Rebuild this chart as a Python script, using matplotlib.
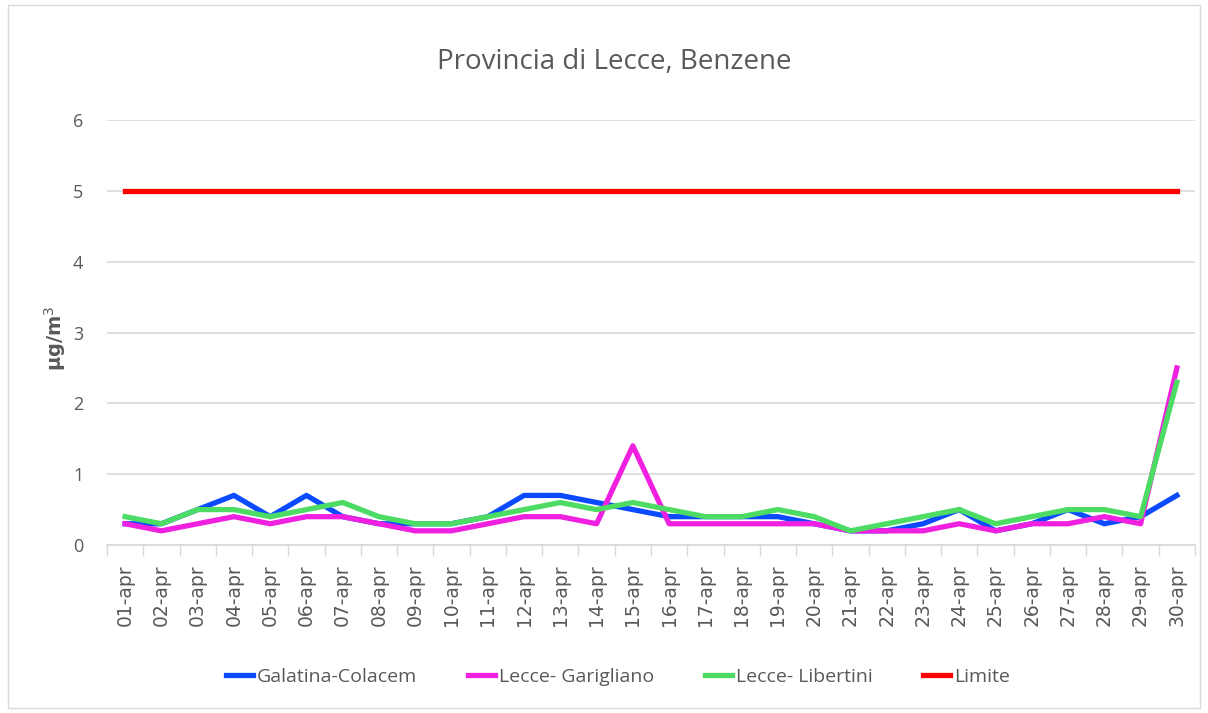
import matplotlib
matplotlib.use("Agg")
import matplotlib.pyplot as plt
from matplotlib.patches import Rectangle
import numpy as np

plt.rcParams['font.family'] = ['Open Sans', 'DejaVu Sans']

days = [f"{d:02d}-apr" for d in range(1, 31)]

galatina = [0.3, 0.3, 0.5, 0.7, 0.4, 0.7, 0.4, 0.3, 0.3, 0.3,
            0.4, 0.7, 0.7, 0.6, 0.5, 0.4, 0.4, 0.4, 0.4, 0.3,
            0.2, 0.2, 0.3, 0.5, 0.2, 0.3, 0.5, 0.3, 0.4, 0.7]
garigliano = [0.3, 0.2, 0.3, 0.4, 0.3, 0.4, 0.4, 0.3, 0.2, 0.2,
              0.3, 0.4, 0.4, 0.3, 1.4, 0.3, 0.3, 0.3, 0.3, 0.3,
              0.2, 0.2, 0.2, 0.3, 0.2, 0.3, 0.3, 0.4, 0.3, 2.5]
libertini = [0.4, 0.3, 0.5, 0.5, 0.4, 0.5, 0.6, 0.4, 0.3, 0.3,
             0.4, 0.5, 0.6, 0.5, 0.6, 0.5, 0.4, 0.4, 0.5, 0.4,
             0.2, 0.3, 0.4, 0.5, 0.3, 0.4, 0.5, 0.5, 0.4, 2.3]
limite = [5] * 30

grey = "#595959"
x = np.arange(len(days))

fig = plt.figure(figsize=(12.08, 7.13), dpi=100)
ax = fig.add_axes([107 / 1208, 1 - 545 / 713, (1195 - 107) / 1208, (545 - 120) / 713])

ax.plot(x, galatina, color="#0A4BFF", lw=3.8, label="Galatina-Colacem")
ax.plot(x, garigliano, color="#F020E0", lw=3.8, label="Lecce- Garigliano")
ax.plot(x, libertini, color="#4CDC64", lw=3.8, label="Lecce- Libertini")
ax.plot(x, limite, color="#FF0000", lw=3.8, label="Limite")

ax.set_xlim(-0.5, len(days) - 0.5)
ax.set_ylim(0, 6)
ax.set_yticks(range(7))
ax.set_xticks(x)
ax.set_xticklabels(days, rotation=90, fontsize=13.5, color=grey, family="DejaVu Sans")
ax.tick_params(axis="x", length=0, pad=14)
ax.set_xticks(np.arange(-0.5, len(days)), minor=True)
ax.tick_params(axis="x", which="minor", length=8, color="#d9d9d9", width=1)
ax.tick_params(axis="y", length=0, labelsize=13, labelcolor=grey, pad=17)

ax.grid(axis="y", color="#d9d9d9", lw=1.2)
ax.set_axisbelow(True)
for s in ["top", "right", "left"]:
    ax.spines[s].set_visible(False)
ax.spines["bottom"].set_color("#d9d9d9")
ax.spines["bottom"].set_linewidth(1.2)

fig.text(55 / 1208, 1 - 338 / 713, "µg/m$^3$", rotation=90, ha="center", va="center",
         fontsize=14, color=grey, fontweight="bold", family="DejaVu Sans")
fig.text(614 / 1208, 1 - 62 / 713, "Provincia di Lecce, Benzene", ha="center", va="center",
         fontsize=20, color=grey)

fig.legend(loc="center", bbox_to_anchor=(618 / 1208, 1 - 677 / 713), ncol=4, frameon=False,
           fontsize=14, handlelength=1.4, columnspacing=2.6, handletextpad=0.2,
           labelcolor=grey)

fig.patches.append(Rectangle((8 / 1208, 5 / 713), 1192 / 1208, 703 / 713, transform=fig.transFigure,
                             fill=False, edgecolor="#d9d9d9", lw=1))

fig.savefig("out.png", dpi=100)
